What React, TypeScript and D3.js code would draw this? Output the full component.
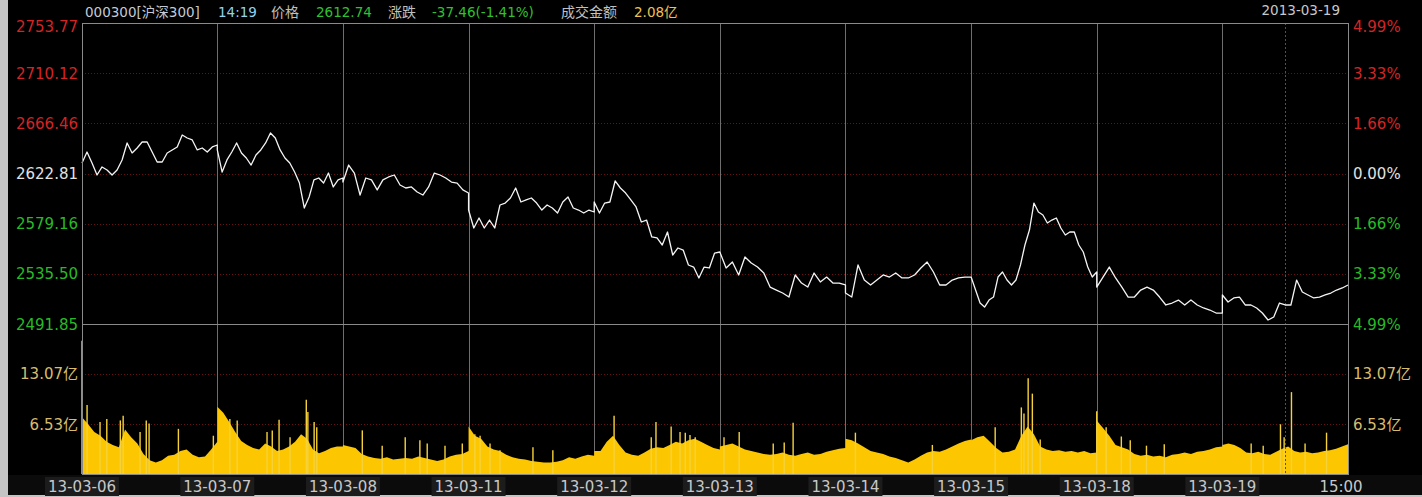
import React from "react";
import * as d3 from "d3";

// ---------- data ----------
const tradeDates = ["13-03-06", "13-03-07", "13-03-08", "13-03-11", "13-03-12", "13-03-13", "13-03-14", "13-03-15", "13-03-18", "13-03-19"];
const closeLabel = "15:00";
const headerDate = "2013-03-19";
const priceTicks = [2753.77, 2710.12, 2666.46, 2622.81, 2579.16, 2535.5, 2491.85];
const pctLabels = ["4.99%", "3.33%", "1.66%", "0.00%", "1.66%", "3.33%", "4.99%"];
const prevClose = 2622.81;
const volTicks = [13.07, 6.53];
const volMax = 19.6;
const cursorSession = 9.5;

const price0306 = [2631.9, 2641.5, 2631.9, 2621.5, 2628.5, 2625.9, 2621.5, 2625.9, 2634.6, 2649.4, 2640.7, 2645.0, 2650.2, 2650.2, 2641.5, 2632.8, 2632.8, 2640.7, 2643.3, 2645.9, 2656.3, 2653.7, 2652.0, 2643.3, 2645.0, 2641.5, 2645.9, 2647.6];
const price0307 = [2643.3, 2624.1, 2634.6, 2641.5, 2649.4, 2640.7, 2636.3, 2630.2, 2638.9, 2643.3, 2649.4, 2658.1, 2653.7, 2643.3, 2636.3, 2631.9, 2624.1, 2614.5, 2592.8, 2602.4, 2617.2, 2618.9, 2614.5, 2623.2, 2611.1, 2617.2, 2618.9];
const price0308 = [2615.4, 2630.2, 2623.2, 2604.1, 2618.9, 2617.2, 2608.5, 2617.2, 2619.8, 2621.5, 2612.8, 2610.2, 2611.1, 2606.7, 2604.1, 2611.1, 2623.2, 2621.5, 2618.9, 2615.4, 2614.5, 2608.5, 2605.8];
const price0311 = [2591.0, 2575.4, 2584.1, 2575.4, 2582.3, 2575.4, 2595.4, 2597.1, 2601.5, 2610.2, 2598.0, 2599.8, 2601.5, 2597.1, 2591.0, 2595.4, 2592.8, 2588.4, 2598.0, 2602.4, 2592.8, 2591.0, 2588.4, 2591.0, 2589.3];
const price0312 = [2598.0, 2588.4, 2597.1, 2598.0, 2616.3, 2610.2, 2605.8, 2599.8, 2593.7, 2580.6, 2582.3, 2567.6, 2566.7, 2560.6, 2571.9, 2551.9, 2558.0, 2556.2, 2543.2, 2541.4, 2531.9, 2541.4, 2540.6, 2553.6, 2554.5];
const price0313 = [2554.5, 2540.6, 2545.8, 2534.5, 2550.2, 2544.9, 2541.4, 2536.2, 2524.0, 2521.4, 2518.8, 2515.3, 2534.5, 2527.5, 2524.0, 2536.2, 2528.4, 2532.7, 2527.5, 2527.5, 2525.8];
const price0314 = [2518.8, 2515.3, 2543.2, 2530.1, 2525.8, 2530.1, 2534.5, 2532.7, 2536.2, 2531.9, 2531.9, 2534.5, 2540.6, 2545.8, 2537.1, 2525.8, 2525.8, 2530.1, 2531.9, 2532.7, 2532.7];
const price0315 = [2532.7, 2521.4, 2510.1, 2506.6, 2512.7, 2515.3, 2532.7, 2537.1, 2530.1, 2525.8, 2530.1, 2543.2, 2560.6, 2573.6, 2597.1, 2589.3, 2586.7, 2579.7, 2582.3, 2584.1, 2575.4, 2569.3, 2571.9, 2571.9, 2560.6, 2554.5, 2541.4, 2532.7, 2537.1];
const price0318 = [2524.0, 2532.7, 2541.4, 2531.9, 2524.0, 2515.3, 2515.3, 2521.4, 2524.0, 2521.4, 2515.3, 2508.4, 2510.1, 2512.7, 2508.4, 2512.7, 2508.4, 2505.8, 2504.0, 2501.4, 2501.4];
const price0319 = [2517.1, 2511.0, 2514.5, 2515.3, 2508.4, 2508.4, 2505.8, 2501.4, 2495.3, 2497.9, 2510.1, 2508.4, 2508.4, 2530.1, 2519.7, 2517.1, 2514.5, 2515.3, 2517.1, 2518.8, 2521.4, 2523.2, 2525.8];

// volume (亿), base level sampled evenly through each session
const vol0306 = [7.4, 6.5, 5.5, 5.0, 4.2, 3.8, 3.5, 5.8, 4.8, 4.0, 2.6, 1.8, 1.5, 1.8, 2.4, 2.5, 3.0, 3.2, 2.5, 2.2, 2.3, 3.2, 4.2];
const vol0307 = [8.8, 8.0, 6.8, 5.5, 4.3, 3.8, 3.4, 3.2, 4.0, 3.6, 3.0, 3.2, 3.6, 4.2, 5.2, 4.6, 3.2, 2.7, 3.0, 3.4, 3.6, 3.6];
const vol0308 = [3.8, 3.6, 3.4, 2.6, 2.3, 2.1, 2.0, 2.2, 1.9, 2.0, 2.1, 2.0, 2.3, 2.1, 1.9, 1.7, 1.9, 2.3, 2.5, 2.6, 3.0];
const vol0311 = [6.2, 5.0, 4.6, 3.6, 3.2, 3.0, 2.5, 2.2, 2.0, 1.9, 1.7, 1.6, 1.5, 1.5, 1.6, 1.8, 2.2, 2.0, 2.3, 2.5, 2.4];
const vol0312 = [3.0, 3.0, 4.2, 5.0, 3.8, 2.8, 2.5, 2.4, 2.8, 3.3, 3.5, 3.4, 3.8, 4.2, 4.0, 4.4, 4.6, 4.2, 3.8, 3.4, 3.2];
const vol0313 = [3.6, 3.8, 4.0, 3.6, 3.2, 3.0, 2.8, 2.6, 2.5, 2.6, 2.8, 2.5, 2.4, 2.6, 2.8, 2.5, 2.6, 2.9, 3.1, 3.3, 3.4];
const vol0314 = [4.6, 4.4, 4.0, 3.5, 3.0, 2.8, 2.6, 2.3, 2.1, 1.8, 1.5, 1.9, 2.4, 2.8, 3.0, 2.9, 3.2, 3.6, 4.0, 4.3, 4.5];
const vol0315 = [4.4, 4.8, 5.0, 4.2, 3.4, 2.8, 2.9, 3.2, 5.0, 6.2, 5.2, 3.6, 3.2, 3.0, 3.1, 2.9, 3.0, 2.8, 3.0, 2.7, 2.8];
const vol0318 = [7.0, 6.0, 5.0, 3.8, 3.5, 3.2, 2.6, 2.4, 2.5, 2.3, 2.4, 2.2, 2.5, 2.6, 2.8, 2.6, 2.9, 3.0, 3.2, 3.5, 3.6];
const vol0319 = [3.8, 4.0, 3.8, 3.4, 2.8, 2.7, 2.9, 2.6, 2.5, 2.9, 3.3, 3.6, 3.0, 2.8, 2.9, 2.7, 2.8, 3.0, 3.1, 3.3, 3.6, 3.9];

// single-minute volume spikes: [minute of session (0-240), 亿]
const spk0306 = [[0, 17.4], [9, 9.0], [32, 6.8], [44, 7.2], [68, 7.0], [73, 7.6], [103, 5.5], [114, 7.0], [119, 6.6], [171, 5.9], [233, 5.0]];
const spk0307 = [[24, 7.2], [38, 7.0], [95, 5.5], [105, 5.7], [118, 7.1], [139, 4.8], [170, 9.7], [173, 8.1], [185, 6.8], [190, 6.1]];
const spk0308 = [[37, 5.7], [75, 3.7], [119, 4.8], [147, 4.4], [161, 4.0], [195, 3.7], [228, 4.0]];
const spk0311 = [[12, 5.2], [22, 5.0], [41, 4.0], [60, 3.1], [123, 3.5], [161, 3.1]];
const spk0312 = [[38, 7.6], [109, 4.8], [118, 6.8], [147, 6.2], [164, 5.5], [174, 5.4], [183, 5.1], [193, 4.8]];
const spk0313 = [[8, 4.8], [37, 5.5], [102, 4.0], [123, 4.1], [140, 6.7]];
const spk0314 = [[19, 5.4], [166, 3.8]];
const spk0315 = [[46, 6.1], [96, 8.7], [101, 7.9], [109, 12.5], [117, 10.5], [132, 4.5]];
const spk0318 = [[0, 8.2], [18, 6.1], [47, 4.9], [64, 4.4], [95, 3.7], [129, 3.9]];
const spk0319 = [[55, 4.0], [78, 3.7], [111, 6.5], [118, 4.8], [132, 10.7], [158, 4.0], [199, 5.4]];

const priceByDay = [price0306, price0307, price0308, price0311, price0312, price0313, price0314, price0315, price0318, price0319];
const volByDay = [vol0306, vol0307, vol0308, vol0311, vol0312, vol0313, vol0314, vol0315, vol0318, vol0319];
const spikesByDay = [spk0306, spk0307, spk0308, spk0311, spk0312, spk0313, spk0314, spk0315, spk0318, spk0319];

// header
const headerCode = "000300[沪深300]";
const headerTime = "14:19";
const headerPriceLabel = "价格";
const headerPrice = "2612.74";
const headerChangeLabel = "涨跌";
const headerChange = "-37.46(-1.41%)";
const headerAmountLabel = "成交金额";
const headerAmount = "2.08亿";

// ---------- layout ----------
const W = 1422;
const H = 497;
const L = 82;
const R = 1348;
const T = 23;
const PB = 324;
const VB = 474;

const FONT = "'DejaVu Sans', 'Noto Sans CJK SC', sans-serif";
const RED = "#d42424";
const GREEN = "#26bb26";
const WHITE = "#e2e2e2";
const TAN = "#d8bc6c";
const GRID = "#6a1212";
const VOL = "#fcc600";

export default function App() {
  const x = d3.scaleLinear().domain([0, 1, 10]).range([L, 217.3, R]);
  const yP = d3.scaleLinear().domain([2491.85, 2753.77]).range([PB, T]);
  const yV = d3.scaleLinear().domain([0, volMax]).range([VB, PB]);

  const pricePts: [number, number][] = [];
  priceByDay.forEach((arr, d) => {
    arr.forEach((v, j) => pricePts.push([d + j / (arr.length - 1), v]));
  });
  const volPts: [number, number][] = [];
  volByDay.forEach((arr, d) => {
    arr.forEach((v, j) => volPts.push([d + j / (arr.length - 1), v]));
  });

  const line = d3.line<[number, number]>().x((p) => x(p[0])).y((p) => yP(p[1]));
  const area = d3
    .area<[number, number]>()
    .x((p) => x(p[0]))
    .y0(yV(0))
    .y1((p) => yV(p[1]));

  const spikes: { t: number; v: number }[] = [];
  spikesByDay.forEach((arr, d) => arr.forEach((s) => spikes.push({ t: d + s[0] / 240, v: s[1] })));

  const labelColor = (v: number) => (Math.abs(v - prevClose) < 0.01 ? WHITE : v > prevClose ? RED : GREEN);

  return (
    <svg width={W} height={H} style={{ position: "absolute", left: 0, top: 0, display: "block" }} fontFamily={FONT}>
      <rect x={0} y={0} width={W} height={H} fill="#c4c4c4" />
      <rect x={8} y={0} width={W - 8} height={H - 2} fill="#000" />
      {/* bottom strip */}
      <rect x={8} y={VB + 1} width={W - 8} height={H - VB - 3} fill="#0b0b0b" />

      {/* header */}
      <text y={17} fontSize={13.5}>
        <tspan x={85} fill="#c4cad6">{headerCode}</tspan>
        <tspan x={218} fill="#8fd3f2">{headerTime}</tspan>
        <tspan x={271} fill="#c0c0c0" fontSize={14}>{headerPriceLabel}</tspan>
        <tspan x={316} fill="#30c030">{headerPrice}</tspan>
        <tspan x={388} fill="#c0c0c0" fontSize={14}>{headerChangeLabel}</tspan>
        <tspan x={432} fill="#30c030">{headerChange}</tspan>
        <tspan x={561} fill="#c0c0c0" fontSize={14}>{headerAmountLabel}</tspan>
        <tspan x={634} fill="#f0c050">{headerAmount}</tspan>
      </text>
      <text x={1340} y={15} fontSize={13.5} fill="#c8c8c8" textAnchor="end">{headerDate}</text>

      {/* horizontal grid */}
      {priceTicks.slice(1, -1).map((v, i) => (
        <line key={"hg" + i} x1={L} x2={R} y1={Math.round(yP(v)) + 0.5} y2={Math.round(yP(v)) + 0.5} stroke={GRID} strokeDasharray="1 2" />
      ))}
      {volTicks.map((v, i) => (
        <line key={"vg" + i} x1={L} x2={R} y1={Math.round(yV(v)) + 0.5} y2={Math.round(yV(v)) + 0.5} stroke={GRID} strokeDasharray="1 2" />
      ))}

      {/* session separators */}
      {d3.range(1, 10).map((d) => (
        <line key={"vl" + d} x1={Math.round(x(d)) + 0.5} x2={Math.round(x(d)) + 0.5} y1={T} y2={VB} stroke="#6e6e6e" />
      ))}

      {/* volume */}
      <path d={area(volPts) || ""} fill={VOL} />
      {spikes.map((s, i) => (
        <line key={"sp" + i} x1={x(s.t)} x2={x(s.t)} y1={yV(0)} y2={yV(s.v)} stroke="#f6d23a" strokeWidth={1.4} />
      ))}

      {/* cursor */}
      <line x1={Math.round(x(cursorSession)) + 0.5} x2={Math.round(x(cursorSession)) + 0.5} y1={T} y2={VB} stroke="#c82020" strokeDasharray="2 2" />

      {/* price line */}
      <path d={line(pricePts) || ""} fill="none" stroke="#f4f4f4" strokeWidth={1.3} strokeLinejoin="round" />

      {/* frame */}
      <line x1={L} x2={R} y1={PB + 0.5} y2={PB + 0.5} stroke="#8a8a8a" />
      <rect x={L + 0.5} y={T + 0.5} width={R - L} height={VB - T} fill="none" stroke="#8a8a8a" />

      {/* left/right price labels */}
      {priceTicks.map((v, i) => (
        <text key={"pl" + i} x={78} y={yP(v) + 5.5 + (i === 0 ? 3 : 0)} fontSize={15} fill={labelColor(v)} textAnchor="end">
          {v.toFixed(2)}
        </text>
      ))}
      {priceTicks.map((v, i) => (
        <text key={"pr" + i} x={1353} y={yP(v) + 5.5 + (i === 0 ? 3 : 0)} fontSize={15} fill={labelColor(v)}>
          {pctLabels[i]}
        </text>
      ))}
      {volTicks.map((v, i) => (
        <text key={"vlab" + i} x={78} y={yV(v) + 5.5} fontSize={15} fill={TAN} textAnchor="end">
          {v.toFixed(2) + "亿"}
        </text>
      ))}
      {volTicks.map((v, i) => (
        <text key={"vrab" + i} x={1353} y={yV(v) + 5.5} fontSize={15} fill={TAN}>
          {v.toFixed(2) + "亿"}
        </text>
      ))}

      {/* date labels */}
      {tradeDates.map((dt, i) => (
        <g key={"dl" + i}>
          <rect x={x(i) - 37} y={VB + 3} width={74} height={19} fill="#1c1c1c" />
          <text x={x(i)} y={VB + 18} fontSize={15} fill="#c8c8c8" textAnchor="middle">{dt}</text>
        </g>
      ))}
      <text x={x(10) - 7} y={VB + 18} fontSize={15} fill="#c8c8c8" textAnchor="middle">{closeLabel}</text>
    </svg>
  );
}
